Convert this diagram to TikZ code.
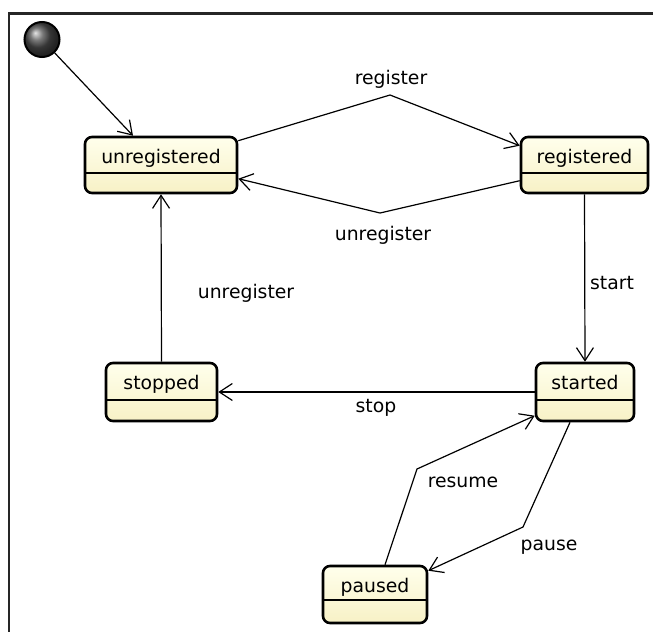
\documentclass[tikz,border=0pt]{standalone}
\usepackage{fontspec}
\setmainfont{DejaVu Sans}
\usetikzlibrary{arrows.meta,shadings}
\definecolor{boxtop}{HTML}{FFFFEC}
\definecolor{boxbot}{HTML}{F7F1C6}
\tikzset{
  state/.style={rectangle, rounded corners=7pt, line width=2.6pt, draw=black,
    top color=boxtop, bottom color=boxbot, inner sep=0pt,
    font=\fontsize{18.8}{20}\selectfont, text height=26pt,
    path picture={\draw[line width=1.1pt]
      ([yshift=-#1]path picture bounding box.north west) --
      ([yshift=-#1]path picture bounding box.north east);}},
  state/.default=36pt,
  trans/.style={line width=1.2pt, -{Straight Barb[length=13pt,width=17pt,line width=1.2pt]}},
  lbl/.style={font=\fontsize{18.8}{20}\selectfont, inner sep=0pt},
  frame/.style={line width=2.4pt, draw=black!85}
}
\begin{document}
\begin{tikzpicture}[x=1pt,y=-1pt]
  \useasboundingbox (0,0) rectangle (653,632);
  \fill[white] (0,0) rectangle (653,632);
  % outer frame (top and left edges)
  \draw[frame] (653,13.5) -- (9,13.5) -- (9,632);

  % initial pseudo-state
  \shade[ball color=black!70] (42,39.5) circle[radius=17pt];
  \node[circle, minimum size=35pt, inner sep=0pt, line width=2pt, draw=black] (init) at (42,39.5) {};

  % states
  \node[state, minimum width=152pt, minimum height=56pt, text depth=30pt] (unreg) at (161,165) {unregistered};
  \node[state, minimum width=127pt, minimum height=56pt, text depth=30pt] (reg) at (584.5,165) {registered};
  \node[state=37pt, minimum width=111pt, minimum height=58pt, text depth=32pt] (stopped) at (161.5,392) {stopped};
  \node[state=37pt, minimum width=98pt, minimum height=58pt, text depth=32pt] (started) at (585,392) {started};
  \node[state=34pt, minimum width=104pt, minimum height=57pt, text depth=31pt] (paused) at (375,594.5) {paused};

  % bend points
  \coordinate (regTop) at (390,95);
  \coordinate (unregBot) at (380,213);
  \coordinate (resumeBend) at (417,469);
  \coordinate (pauseBend) at (523,527);

  % transitions
  \draw[trans] (init) -- ([xshift=-28pt]unreg.north);
  \draw[trans] ([yshift=-5pt]unreg.north east) -- (regTop) -- ([yshift=-10pt]reg.north west);
  \draw[trans] ([yshift=-45pt]reg.north west) -- (unregBot) -- ([yshift=-43pt]unreg.north east);
  \draw[trans] (reg.south) -- (started.north);
  \draw[trans] (started.west) -- (stopped.east);
  \draw[trans] (stopped.north) -- (unreg.south);
  \draw[trans] ([xshift=10pt]paused.north) -- (resumeBend) -- ([yshift=-54pt]started.north west);
  \draw[trans] ([xshift=-15pt]started.south) -- (pauseBend) -- ([yshift=-6pt]paused.north east);

  % labels
  \node[lbl] (lregister) at (391,79) {register};
  \node[lbl] (lunreg1) at (383,235) {unregister};
  \node[lbl] (lstart) at (612,283) {start};
  \node[lbl] (lunreg2) at (246,293) {unregister};
  \node[lbl] (lstop) at (376,408) {stop};
  \node[lbl] (lresume) at (463,482) {resume};
  \node[lbl] (lpause) at (549,547) {pause};
\end{tikzpicture}
\end{document}
